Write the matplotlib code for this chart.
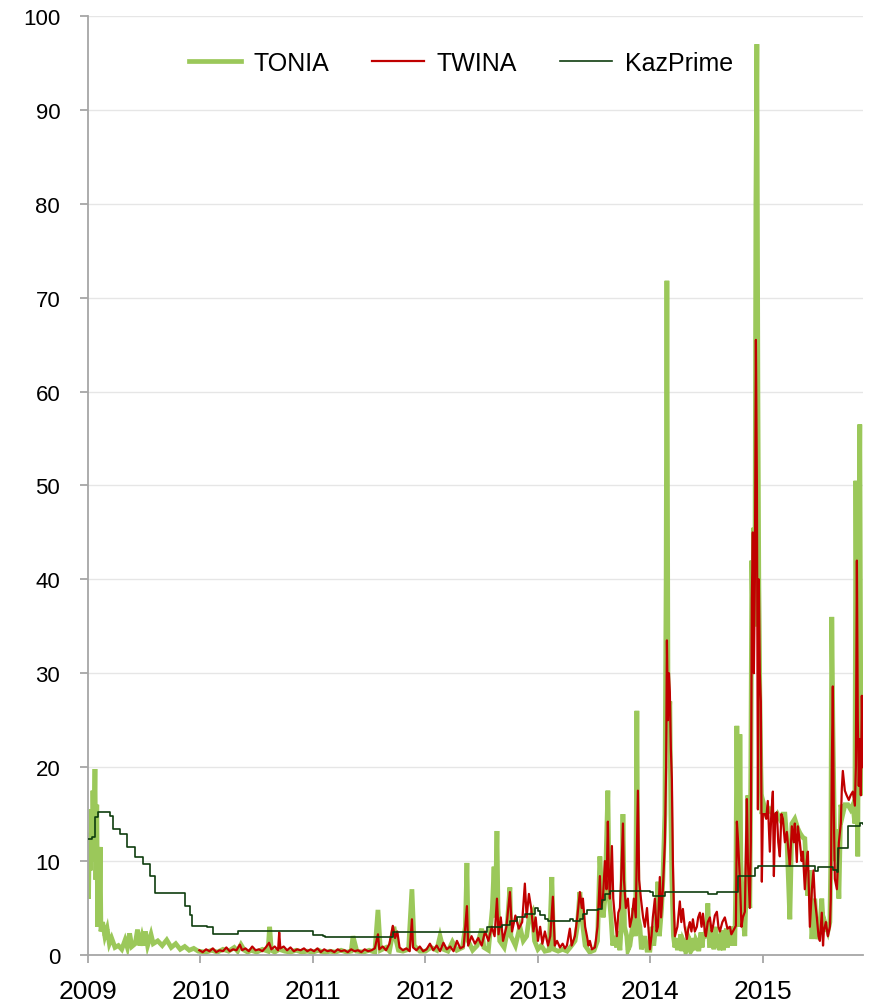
# -*- coding: utf-8 -*-
# TONIA / TWINA / KazPrime, 2009-2015
import numpy as np
import matplotlib
matplotlib.use('Agg')
import matplotlib.pyplot as plt

plt.rcParams['font.family'] = ['Liberation Sans', 'DejaVu Sans']

# ============================================================
# data: (decimal year, rate %)
# ============================================================
tonia = [
    (2009.000, 8.0), (2009.005, 6.0), (2009.012, 13.0), (2009.020, 9.0),
    (2009.028, 15.5), (2009.036, 10.0), (2009.044, 17.5), (2009.052, 12.0),
    (2009.062, 19.8), (2009.070, 8.0), (2009.078, 16.0), (2009.086, 3.0),
    (2009.094, 11.5), (2009.100, 3.0), (2009.108, 11.5), (2009.115, 2.5),
    (2009.130, 3.5), (2009.150, 2.0), (2009.170, 2.8), (2009.190, 1.2),
    (2009.210, 1.8), (2009.240, 0.8), (2009.270, 1.0), (2009.300, 0.6),
    (2009.330, 1.6), (2009.350, 0.8), (2009.370, 2.3), (2009.390, 0.9),
    (2009.420, 1.2), (2009.440, 2.7), (2009.460, 1.0), (2009.480, 2.0),
    (2009.500, 1.0), (2009.510, 2.5), (2009.530, 1.0), (2009.560, 2.2),
    (2009.580, 1.2), (2009.620, 1.5), (2009.660, 1.0), (2009.700, 1.6),
    (2009.740, 0.8), (2009.780, 1.2), (2009.820, 0.6), (2009.860, 0.9),
    (2009.900, 0.5), (2009.940, 0.7), (2009.980, 0.4),
    (2010.05, 0.3), (2010.10, 0.5), (2010.15, 0.3), (2010.20, 0.6),
    (2010.25, 0.4), (2010.30, 0.8), (2010.33, 0.4), (2010.36, 1.1),
    (2010.39, 0.5), (2010.42, 0.3), (2010.45, 0.5), (2010.50, 0.3),
    (2010.55, 0.6), (2010.60, 0.4), (2010.615, 3.0), (2010.63, 0.5),
    (2010.66, 0.3), (2010.70, 0.6), (2010.75, 0.4), (2010.80, 0.3),
    (2010.85, 0.5), (2010.90, 0.3), (2010.95, 0.4), (2011.00, 0.3),
    (2011.05, 0.5), (2011.10, 0.2), (2011.15, 0.4), (2011.20, 0.3),
    (2011.25, 0.5), (2011.30, 0.3), (2011.34, 0.4), (2011.356, 2.0),
    (2011.39, 0.4), (2011.45, 0.3), (2011.50, 0.5), (2011.55, 0.3),
    (2011.578, 4.8), (2011.60, 0.5), (2011.65, 0.8), (2011.68, 0.4),
    (2011.72, 3.0), (2011.74, 1.5), (2011.76, 0.5), (2011.80, 0.4),
    (2011.85, 0.6), (2011.88, 7.0), (2011.90, 1.0), (2011.95, 0.4),
    (2012.00, 0.4), (2012.05, 0.8), (2012.10, 0.5), (2012.13, 2.0),
    (2012.16, 0.6), (2012.20, 0.4), (2012.24, 1.4), (2012.28, 0.5),
    (2012.33, 0.8), (2012.355, 3.0), (2012.369, 9.8), (2012.38, 1.5),
    (2012.42, 0.5), (2012.46, 1.0), (2012.50, 2.8), (2012.52, 0.8),
    (2012.56, 0.5), (2012.595, 5.0), (2012.61, 9.4), (2012.62, 4.0),
    (2012.636, 13.2), (2012.645, 5.0), (2012.66, 1.5), (2012.70, 0.8),
    (2012.72, 2.0), (2012.751, 7.2), (2012.76, 2.0), (2012.80, 1.0),
    (2012.84, 3.0), (2012.87, 1.5), (2012.90, 2.0), (2012.92, 3.8),
    (2012.95, 4.5), (2012.97, 1.5), (2013.00, 0.6), (2013.03, 1.0),
    (2013.062, 0.4), (2013.10, 0.5), (2013.124, 8.3), (2013.14, 0.6),
    (2013.18, 0.4), (2013.22, 0.6), (2013.26, 0.4), (2013.30, 1.0),
    (2013.33, 1.5), (2013.35, 3.0), (2013.373, 6.7), (2013.39, 4.0),
    (2013.42, 1.0), (2013.46, 0.3), (2013.50, 0.5), (2013.53, 1.5),
    (2013.551, 10.5), (2013.565, 7.0), (2013.58, 4.0), (2013.596, 6.0),
    (2013.622, 17.5), (2013.635, 6.0), (2013.65, 4.0), (2013.665, 1.0),
    (2013.684, 2.0), (2013.70, 0.8), (2013.715, 2.5), (2013.729, 0.5),
    (2013.745, 4.0), (2013.756, 15.0), (2013.77, 3.0), (2013.79, 2.0),
    (2013.80, 0.5), (2013.818, 1.0), (2013.84, 3.0), (2013.853, 5.0),
    (2013.868, 2.0), (2013.88, 26.0), (2013.89, 4.0), (2013.907, 3.0),
    (2013.92, 0.6), (2013.93, 1.0), (2013.951, 2.0), (2013.97, 0.5),
    (2013.996, 0.5), (2014.015, 3.0), (2014.03, 1.0), (2014.055, 4.0),
    (2014.067, 7.8), (2014.08, 2.0), (2014.10, 5.0), (2014.111, 8.0),
    (2014.129, 15.0), (2014.14, 40.0), (2014.147, 71.8), (2014.156, 30.0),
    (2014.165, 25.0), (2014.173, 27.0), (2014.182, 15.0), (2014.191, 8.0),
    (2014.205, 2.0), (2014.218, 0.8), (2014.23, 1.8), (2014.24, 0.5),
    (2014.25, 1.5), (2014.262, 1.0), (2014.27, 2.2), (2014.28, 0.4),
    (2014.29, 1.6), (2014.305, 1.2), (2014.315, 0.3), (2014.324, 0.5),
    (2014.335, 2.0), (2014.351, 1.5), (2014.36, 0.4), (2014.37, 0.6),
    (2014.38, 1.8), (2014.396, 0.5), (2014.405, 1.6), (2014.42, 1.2),
    (2014.43, 0.4), (2014.44, 1.5), (2014.45, 2.4), (2014.46, 0.8),
    (2014.47, 2.0), (2014.484, 2.0), (2014.50, 3.0), (2014.511, 5.5),
    (2014.525, 1.0), (2014.538, 1.0), (2014.547, 2.8), (2014.556, 2.0),
    (2014.565, 0.6), (2014.573, 2.5), (2014.58, 3.0), (2014.59, 0.8),
    (2014.60, 2.2), (2014.618, 0.5), (2014.63, 2.6), (2014.64, 1.5),
    (2014.65, 0.5), (2014.662, 2.0), (2014.675, 2.8), (2014.685, 0.8),
    (2014.695, 2.0), (2014.707, 1.0), (2014.72, 2.5), (2014.733, 3.0),
    (2014.75, 1.0), (2014.76, 8.0), (2014.769, 24.4), (2014.778, 10.0),
    (2014.787, 3.0), (2014.796, 23.5), (2014.804, 10.0), (2014.822, 4.0),
    (2014.84, 2.0), (2014.858, 10.0), (2014.867, 17.0), (2014.876, 8.0),
    (2014.884, 5.0), (2014.893, 20.0), (2014.902, 42.0), (2014.911, 35.0),
    (2014.92, 45.5), (2014.929, 35.0), (2014.938, 80.0), (2014.947, 97.0),
    (2014.956, 60.0), (2014.964, 40.0), (2014.973, 28.0), (2014.982, 20.0),
    (2014.991, 15.0),
    (2015.009, 16.0), (2015.03, 15.0), (2015.062, 15.5), (2015.09, 15.0),
    (2015.107, 14.5), (2015.13, 15.0), (2015.151, 14.5), (2015.175, 15.0),
    (2015.196, 15.0), (2015.215, 12.0), (2015.24, 3.8), (2015.258, 14.0),
    (2015.284, 14.5), (2015.31, 13.5), (2015.329, 13.0), (2015.356, 12.5),
    (2015.373, 12.4), (2015.39, 8.0), (2015.40, 6.3), (2015.418, 9.0),
    (2015.436, 1.7), (2015.45, 4.0), (2015.462, 6.0), (2015.48, 1.7),
    (2015.50, 2.5), (2015.507, 3.0), (2015.524, 6.0), (2015.54, 2.5),
    (2015.551, 3.5), (2015.578, 2.5), (2015.596, 3.5), (2015.604, 10.0),
    (2015.613, 36.0), (2015.622, 25.0), (2015.64, 10.0), (2015.658, 13.4),
    (2015.676, 6.0), (2015.693, 16.0), (2015.711, 15.0), (2015.73, 16.0),
    (2015.756, 16.0), (2015.78, 15.5), (2015.80, 16.0), (2015.818, 14.0),
    (2015.827, 50.5), (2015.836, 30.0), (2015.844, 10.5), (2015.853, 40.0),
    (2015.862, 56.5), (2015.871, 25.0), (2015.88, 17.0), (2015.889, 29.7),
]

twina = [
    (2009.99, 0.5), (2010.02, 0.3), (2010.05, 0.6), (2010.08, 0.4),
    (2010.11, 0.7), (2010.14, 0.3), (2010.17, 0.5), (2010.20, 0.4),
    (2010.23, 0.8), (2010.26, 0.4), (2010.29, 0.6), (2010.32, 0.5),
    (2010.35, 1.1), (2010.37, 0.5), (2010.40, 0.7), (2010.43, 0.4),
    (2010.46, 0.9), (2010.49, 0.5), (2010.52, 0.6), (2010.55, 0.4),
    (2010.58, 0.8), (2010.61, 1.3), (2010.63, 0.6), (2010.66, 0.9),
    (2010.69, 0.5), (2010.70, 2.4), (2010.71, 0.7), (2010.74, 0.9),
    (2010.77, 0.5), (2010.80, 0.8), (2010.83, 0.4), (2010.86, 0.6),
    (2010.89, 0.5), (2010.92, 0.7), (2010.95, 0.4), (2010.98, 0.6),
    (2011.01, 0.4), (2011.04, 0.7), (2011.07, 0.3), (2011.10, 0.6),
    (2011.13, 0.4), (2011.16, 0.5), (2011.19, 0.3), (2011.22, 0.6),
    (2011.25, 0.4), (2011.28, 0.5), (2011.31, 0.3), (2011.34, 0.6),
    (2011.37, 0.4), (2011.40, 0.5), (2011.43, 0.3), (2011.46, 0.6),
    (2011.49, 0.4), (2011.52, 0.5), (2011.55, 0.7), (2011.578, 2.2),
    (2011.59, 0.6), (2011.62, 0.9), (2011.65, 0.5), (2011.68, 1.2),
    (2011.71, 3.1), (2011.73, 1.8), (2011.75, 2.5), (2011.77, 0.8),
    (2011.80, 0.5), (2011.83, 0.7), (2011.86, 0.4), (2011.88, 3.8),
    (2011.89, 0.8), (2011.92, 0.5), (2011.95, 0.9), (2011.98, 0.4),
    (2012.01, 0.6), (2012.04, 1.2), (2012.07, 0.5), (2012.10, 1.0),
    (2012.13, 0.4), (2012.16, 1.3), (2012.19, 0.6), (2012.22, 0.9),
    (2012.25, 0.4), (2012.28, 1.5), (2012.31, 0.7), (2012.34, 0.9),
    (2012.369, 5.2), (2012.38, 1.0), (2012.41, 2.0), (2012.44, 1.2),
    (2012.47, 1.8), (2012.50, 1.0), (2012.53, 2.5), (2012.56, 1.5),
    (2012.59, 3.0), (2012.615, 2.0), (2012.636, 6.0), (2012.65, 2.2),
    (2012.67, 4.0), (2012.69, 1.5), (2012.72, 3.0), (2012.751, 6.7),
    (2012.77, 2.5), (2012.80, 4.2), (2012.83, 2.8), (2012.86, 3.5),
    (2012.884, 7.6), (2012.90, 4.0), (2012.92, 6.5), (2012.94, 5.0),
    (2012.96, 2.5), (2012.98, 4.0), (2013.00, 1.5), (2013.02, 3.0),
    (2013.04, 1.2), (2013.062, 2.5), (2013.09, 1.0), (2013.11, 2.0),
    (2013.133, 6.2), (2013.15, 1.0), (2013.17, 1.5), (2013.196, 0.8),
    (2013.22, 1.2), (2013.24, 0.7), (2013.258, 1.0), (2013.284, 2.8),
    (2013.30, 1.0), (2013.329, 2.0), (2013.35, 4.0), (2013.373, 6.7),
    (2013.39, 5.0), (2013.40, 6.0), (2013.42, 3.0), (2013.436, 2.0),
    (2013.45, 1.0), (2013.462, 1.5), (2013.48, 0.6), (2013.507, 0.8),
    (2013.53, 3.0), (2013.551, 8.4), (2013.56, 5.0), (2013.578, 6.0),
    (2013.596, 10.0), (2013.61, 7.0), (2013.622, 14.2), (2013.63, 9.0),
    (2013.64, 6.0), (2013.658, 11.6), (2013.67, 6.0), (2013.684, 4.0),
    (2013.702, 2.0), (2013.715, 4.5), (2013.729, 5.0), (2013.74, 8.0),
    (2013.756, 14.0), (2013.765, 8.0), (2013.782, 5.0), (2013.80, 6.0),
    (2013.818, 3.0), (2013.836, 4.0), (2013.853, 6.0), (2013.87, 4.0),
    (2013.889, 17.5), (2013.90, 8.0), (2013.916, 6.0), (2013.935, 4.0),
    (2013.951, 3.0), (2013.97, 5.0), (2013.996, 0.6), (2014.01, 2.0),
    (2014.022, 4.0), (2014.04, 6.0), (2014.055, 2.5), (2014.067, 3.0),
    (2014.084, 8.3), (2014.095, 4.0), (2014.111, 7.0), (2014.129, 12.0),
    (2014.14, 20.0), (2014.147, 33.5), (2014.156, 25.0), (2014.165, 30.0),
    (2014.173, 28.0), (2014.182, 22.0), (2014.191, 18.7), (2014.20, 10.0),
    (2014.209, 5.0), (2014.218, 2.0), (2014.24, 3.0), (2014.262, 5.7),
    (2014.275, 3.5), (2014.289, 4.9), (2014.305, 3.0), (2014.324, 1.7),
    (2014.34, 3.0), (2014.351, 3.5), (2014.365, 2.5), (2014.378, 3.8),
    (2014.395, 2.5), (2014.413, 3.0), (2014.425, 4.0), (2014.44, 4.5),
    (2014.455, 3.0), (2014.467, 4.4), (2014.484, 2.5), (2014.493, 2.0),
    (2014.51, 3.5), (2014.529, 4.0), (2014.545, 2.5), (2014.556, 3.0),
    (2014.573, 4.2), (2014.591, 4.6), (2014.605, 3.0), (2014.618, 2.5),
    (2014.64, 3.5), (2014.662, 4.0), (2014.685, 2.8), (2014.707, 3.0),
    (2014.72, 2.2), (2014.733, 2.5), (2014.76, 3.1), (2014.769, 14.2),
    (2014.78, 12.0), (2014.796, 8.0), (2014.81, 3.0), (2014.822, 4.0),
    (2014.84, 4.6), (2014.858, 16.6), (2014.867, 10.0), (2014.884, 5.0),
    (2014.893, 12.0), (2014.902, 38.0), (2014.911, 45.0), (2014.92, 30.0),
    (2014.929, 40.0), (2014.938, 65.5), (2014.947, 50.0), (2014.956, 15.5),
    (2014.964, 40.0), (2014.973, 30.0), (2014.982, 27.0), (2014.991, 7.8),
    (2015.00, 15.0), (2015.018, 15.0), (2015.03, 14.5), (2015.044, 16.4),
    (2015.062, 11.0), (2015.075, 15.0), (2015.089, 17.4), (2015.098, 8.4),
    (2015.11, 15.0), (2015.124, 15.2), (2015.137, 12.0), (2015.151, 10.5),
    (2015.165, 15.0), (2015.178, 14.5), (2015.196, 12.0), (2015.213, 13.1),
    (2015.228, 11.0), (2015.24, 9.5), (2015.258, 13.7), (2015.275, 12.0),
    (2015.284, 14.0), (2015.302, 9.9), (2015.311, 13.7), (2015.329, 12.0),
    (2015.345, 10.0), (2015.356, 11.0), (2015.373, 7.0), (2015.39, 10.0),
    (2015.40, 11.0), (2015.418, 3.0), (2015.436, 7.0), (2015.45, 9.0),
    (2015.462, 6.0), (2015.48, 4.0), (2015.495, 2.0), (2015.507, 1.5),
    (2015.524, 4.5), (2015.535, 1.0), (2015.542, 2.5), (2015.56, 3.5),
    (2015.578, 2.0), (2015.596, 3.0), (2015.604, 6.0), (2015.613, 20.0),
    (2015.622, 28.6), (2015.631, 15.0), (2015.64, 8.1), (2015.658, 7.0),
    (2015.676, 12.0), (2015.693, 14.0), (2015.702, 17.7), (2015.711, 19.6),
    (2015.729, 17.5), (2015.745, 17.0), (2015.764, 16.5), (2015.78, 17.0),
    (2015.80, 17.4), (2015.818, 15.9), (2015.827, 20.0), (2015.836, 42.0),
    (2015.844, 25.0), (2015.853, 18.0), (2015.862, 23.0), (2015.871, 17.0),
    (2015.88, 27.6), (2015.889, 20.0),
]

# KazPrime is a step series (value holds until next change)
kazprime = [
    (2009.000, 12.3), (2009.036, 12.6), (2009.062, 14.7), (2009.089, 15.2),
    (2009.196, 14.8), (2009.222, 13.4), (2009.284, 12.9), (2009.347, 11.5),
    (2009.418, 10.4), (2009.489, 9.7), (2009.551, 8.4), (2009.596, 6.6),
    (2009.862, 5.2), (2009.907, 4.3), (2009.924, 3.1), (2010.058, 3.0),
    (2010.111, 2.2), (2010.333, 2.5), (2011.000, 2.1), (2011.089, 2.0),
    (2011.107, 1.9), (2011.711, 2.4), (2012.547, 3.0), (2012.680, 3.2),
    (2012.751, 3.6), (2012.813, 4.0), (2012.884, 4.4), (2012.973, 5.0),
    (2013.000, 4.7), (2013.018, 4.3), (2013.062, 3.8), (2013.089, 3.6),
    (2013.284, 3.8), (2013.311, 3.6), (2013.373, 3.8), (2013.400, 4.4),
    (2013.436, 4.8), (2013.533, 4.9), (2013.569, 5.8), (2013.596, 6.5),
    (2013.640, 6.8), (2013.996, 6.7), (2014.022, 6.3), (2014.129, 6.7),
    (2014.511, 6.5), (2014.591, 6.7), (2014.778, 8.4), (2014.929, 9.3),
    (2014.956, 9.5), (2015.462, 8.9), (2015.489, 9.4), (2015.622, 9.0),
    (2015.658, 8.8), (2015.667, 11.4), (2015.756, 13.7), (2015.862, 14.1),
    (2015.889, 13.9),
]

years = [2009, 2010, 2011, 2012, 2013, 2014, 2015]
yticks = list(range(0, 101, 10))

tonia_t, tonia_v = np.array(tonia).T
twina_t, twina_v = np.array(twina).T
kaz_t, kaz_v = np.array(kazprime).T

# ============================================================
# plot
# ============================================================
fig = plt.figure(figsize=(8.73, 10.03), dpi=100)
ax = fig.add_axes([0.1008, 0.0469, 0.8877, 0.9362])

ax.plot(tonia_t, tonia_v, color='#9bc85a', lw=3.4, label='TONIA',
        solid_joinstyle='miter', zorder=2)
ax.plot(twina_t, twina_v, color='#c00000', lw=1.6, label='TWINA', zorder=3)
ax.plot(kaz_t, kaz_v, color='#0e3d0e', lw=1.2, label='KazPrime',
        drawstyle='steps-post', zorder=4)

ax.set_xlim(2009, 2015.89)
ax.set_ylim(0, 100)
ax.set_yticks(yticks)
ax.set_xticks(years)
ax.set_xticklabels([str(y) for y in years])
ax.grid(axis='y', color='#e6e6e6', lw=1.0)
ax.set_axisbelow(True)

for s in ['top', 'right']:
    ax.spines[s].set_visible(False)
for s in ['left', 'bottom']:
    ax.spines[s].set_color('#a6a6a6')
    ax.spines[s].set_linewidth(1.3)
ax.tick_params(axis='both', colors='#a6a6a6', width=1.3, length=6,
               labelcolor='black')
ax.tick_params(axis='y', labelsize=16, pad=14)
ax.tick_params(axis='x', labelsize=19, pad=11)

ax.legend(loc='center', bbox_to_anchor=(0.481, 0.95), ncol=3, frameon=False,
          fontsize=18, handlelength=2.1, handletextpad=0.5, columnspacing=1.7)

plt.savefig('out.png', dpi=100)
plt.close()
